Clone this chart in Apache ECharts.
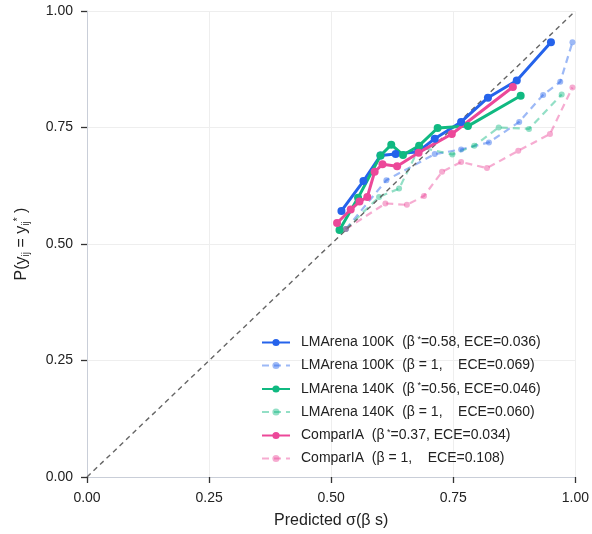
<!DOCTYPE html>
<html>
<head>
<meta charset="utf-8">
<script src="https://cdn.jsdelivr.net/npm/echarts@6/dist/echarts.min.js"></script>
<style>html,body{margin:0;padding:0;background:#fff}#c{width:592px;height:534px}</style>
</head>
<body>
<div id="c"></div>
<script>
// ---- data ----
const lm100_opt_x = [0.521, 0.566, 0.601, 0.632, 0.678, 0.712, 0.766, 0.821, 0.880, 0.950];
const lm100_opt_y = [0.571, 0.635, 0.690, 0.693, 0.698, 0.726, 0.762, 0.814, 0.851, 0.933];
const lm100_one_x = [0.530, 0.613, 0.712, 0.766, 0.823, 0.885, 0.934, 0.969, 0.994];
const lm100_one_y = [0.532, 0.637, 0.693, 0.703, 0.718, 0.762, 0.820, 0.848, 0.933];
const lm140_opt_x = [0.517, 0.555, 0.601, 0.623, 0.647, 0.680, 0.718, 0.780, 0.888];
const lm140_opt_y = [0.530, 0.599, 0.690, 0.713, 0.691, 0.711, 0.749, 0.753, 0.818];
const lm140_one_x = [0.530, 0.598, 0.639, 0.681, 0.748, 0.793, 0.843, 0.905, 0.972];
const lm140_one_y = [0.532, 0.601, 0.619, 0.708, 0.692, 0.711, 0.750, 0.747, 0.821];
const cia_opt_x = [0.512, 0.540, 0.558, 0.574, 0.589, 0.605, 0.635, 0.679, 0.747, 0.872];
const cia_opt_y = [0.545, 0.574, 0.591, 0.601, 0.655, 0.671, 0.667, 0.696, 0.736, 0.837];
const cia_one_x = [0.530, 0.611, 0.655, 0.690, 0.727, 0.766, 0.819, 0.883, 0.948, 0.994];
const cia_one_y = [0.532, 0.587, 0.584, 0.603, 0.655, 0.676, 0.663, 0.700, 0.736, 0.836];
const diag_x = [0, 1];
const diag_y = [0, 1];
const seriesNames = [
  'LMArena 100K (β*=0.58, ECE=0.036)',
  'LMArena 100K (β=1, ECE=0.069)',
  'LMArena 140K (β*=0.56, ECE=0.046)',
  'LMArena 140K (β=1, ECE=0.060)',
  'ComparIA (β*=0.37, ECE=0.034)',
  'ComparIA (β=1, ECE=0.108)'
];
const legendRich = [
  'LMArena 100K  (β{sup| *}=0.58, ECE=0.036)',
  'LMArena 100K  (β = 1,    ECE=0.069)',
  'LMArena 140K  (β{sup| *}=0.56, ECE=0.046)',
  'LMArena 140K  (β = 1,    ECE=0.060)',
  'ComparIA  (β{sup| *}=0.37, ECE=0.034)',
  'ComparIA  (β = 1,    ECE=0.108)'
];
const colors = ['#2563eb', '#2563eb', '#10b981', '#10b981', '#ec4899', '#ec4899'];

function pairs(xs, ys) { return xs.map((x, i) => [x, ys[i]]); }
const dataSets = [
  pairs(lm100_opt_x, lm100_opt_y), pairs(lm100_one_x, lm100_one_y),
  pairs(lm140_opt_x, lm140_opt_y), pairs(lm140_one_x, lm140_one_y),
  pairs(cia_opt_x, cia_opt_y), pairs(cia_one_x, cia_one_y)
];

const FONT = '"Liberation Sans", Arial, sans-serif';
const series = [];
[1, 3, 5].forEach(i => {
  series.push({
    name: seriesNames[i], type: 'line', data: dataSets[i], z: 2,
    symbol: 'circle', symbolSize: 6, color: colors[i],
    lineStyle: { width: 2.2, type: [7, 5], color: colors[i], opacity: 0.45 },
    itemStyle: { color: colors[i], opacity: 0.45 },
    animation: false
  });
});
series.push({
  name: 'diag', type: 'line', data: pairs(diag_x, diag_y), z: 3,
  symbol: 'none', lineStyle: { width: 1.4, type: [5, 4], color: '#666' },
  animation: false, silent: true
});
[0, 2, 4].forEach(i => {
  series.push({
    name: seriesNames[i], type: 'line', data: dataSets[i], z: 4,
    symbol: 'circle', symbolSize: 8, color: colors[i],
    lineStyle: { width: 3, color: colors[i] },
    itemStyle: { color: colors[i] },
    animation: false
  });
});

const chart = echarts.init(document.getElementById('c'), null, { renderer: 'canvas' });
chart.setOption({
  animation: false,
  grid: { left: 87, right: 16, top: 11, bottom: 53, containLabel: false },
  xAxis: {
    type: 'value', min: 0, max: 1, interval: 0.25,
    name: 'Predicted σ(β s)', nameLocation: 'middle', nameGap: 36,
    nameTextStyle: { fontFamily: FONT, fontSize: 16, color: '#222' },
    axisLine: { show: true, lineStyle: { color: '#c9ced8', width: 1 } },
    axisTick: { show: true, length: 6, lineStyle: { color: '#333', width: 1.3 } },
    axisLabel: { fontFamily: FONT, fontSize: 14, color: '#222', margin: 14,
      formatter: v => v.toFixed(2) },
    splitLine: { show: true, lineStyle: { color: '#eeeeee', width: 1 } }
  },
  yAxis: {
    type: 'value', min: 0, max: 1, interval: 0.25,
    name: 'P(y{sub|ij} = y{sub|ij}{sup|*} )', nameLocation: 'middle', nameGap: 56,
    nameRotate: 90,
    nameTextStyle: { fontFamily: FONT, fontSize: 16, color: '#222',
      rich: {
        sub: { fontFamily: FONT, fontSize: 10, color: '#222', verticalAlign: 'bottom', padding: [8, 0, 0, 0] },
        sup: { fontFamily: FONT, fontSize: 10, color: '#222', verticalAlign: 'top', padding: [0, 0, 8, 0] }
      } },
    axisLine: { show: true, lineStyle: { color: '#c9ced8', width: 1 } },
    axisTick: { show: true, length: 6, lineStyle: { color: '#333', width: 1.3 } },
    axisLabel: { fontFamily: FONT, fontSize: 14, color: '#222', margin: 14,
      formatter: v => v.toFixed(2) },
    splitLine: { show: true, lineStyle: { color: '#eeeeee', width: 1 } }
  },
  legend: {
    data: seriesNames, orient: 'vertical', left: 256, top: 330,
    itemWidth: 28, itemHeight: 9, itemGap: 9,
    formatter: name => legendRich[seriesNames.indexOf(name)],
    textStyle: { fontFamily: FONT, fontSize: 14, color: '#222', padding: [0, 0, 0, 6],
      rich: { sup: { fontFamily: FONT, fontSize: 9, color: '#222', verticalAlign: 'top', padding: [0, 0, 6, 0] } } },
    inactiveColor: '#ccc'
  },
  series: series
});
</script>
</body>
</html>
